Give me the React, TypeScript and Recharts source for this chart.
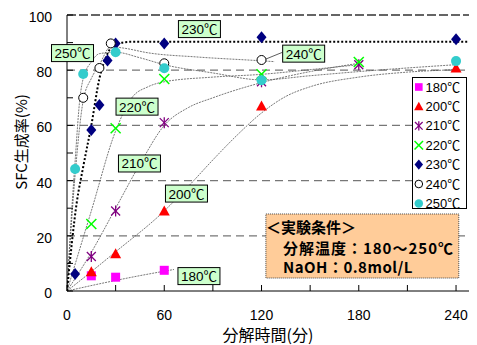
import React from 'react';
import {
  ComposedChart, XAxis, YAxis, Line, Scatter, ReferenceLine, ReferenceDot,
  ReferenceArea, CartesianGrid, Legend, Label,
} from 'recharts';

const FONT = '"Liberation Sans", Arial, "Noto Sans CJK JP", sans-serif';
const CJK = '"Noto Sans CJK JP", "Liberation Sans", sans-serif';

// axis ticks
const xTicks = [0, 30, 60, 90, 120, 150, 180, 210, 240];
const yTicks = [0, 10, 20, 30, 40, 50, 60, 70, 80, 90, 100];
const rightTicks = [0, 20, 40, 60, 80, 100];
const gridValues = [20, 40, 60, 80];

// measured points (time in min, SFC yield %)
const t180 = [15, 30, 60];
const v180 = [5.5, 5, 7.5];
const t200 = [15, 30, 60, 120, 240];
const v200 = [7, 13.5, 29, 67, 80.8];
const t210 = [15, 30, 60, 120, 180];
const v210 = [12.5, 29, 61, 75.8, 82];
const t220 = [15, 30, 60, 120, 180];
const v220 = [24.3, 59, 76.8, 78.5, 83];
const t230 = [5, 15, 20, 25, 30, 60, 120, 240];
const v230 = [6.2, 58.3, 67.4, 83.5, 89.7, 89.7, 91.9, 91.2];
const t240 = [10, 20, 27, 60, 120];
const v240 = [70, 80.8, 89.7, 82.5, 83.7];
const t250 = [5, 10, 30, 60, 120, 240];
const v250 = [44.2, 78.6, 86.5, 80.7, 76.4, 83.3];

// fitted curves
const ft180 = [0, 20, 40, 66];
const fv180 = [0, 2.6, 5, 7.8];
const ft200 = [0, 15, 30, 60, 75, 90, 105, 120, 135, 150, 180, 210, 240];
const fv200 = [0, 7, 14.2, 29, 38, 47.5, 56.5, 64.5, 70.5, 74, 77.5, 79.3, 80.2];
const ft210 = [0, 15, 30, 45, 60, 75, 90, 120, 150, 180];
const fv210 = [0, 14, 30, 46, 60, 66.5, 70, 75.5, 79.5, 82.5];
const ft220 = [0, 15, 30, 40, 50, 60, 90, 120, 150, 180];
const fv220 = [0, 29, 58, 70, 74, 75.8, 77.5, 78.5, 80.2, 82];
const ft230 = [0, 6, 10, 15, 20, 25, 30, 40, 60, 248];
const fv230 = [0, 32, 45, 60, 77, 86, 89.5, 90.3, 90.3, 90.3];
const ft240 = [0, 5, 10, 15, 20, 27, 35, 50, 80, 120, 128];
const fv240 = [0, 42, 69, 77, 82, 88.5, 88, 86.3, 84.8, 83.4, 83.1];
const ft250 = [0, 3, 5, 8, 10, 15, 20, 30, 45, 60, 90, 120, 150, 180, 240];
const fv250 = [0, 30, 47, 70, 77, 83, 86, 86.5, 84.5, 82, 79, 76.5, 78, 79.5, 82];

// in-plot labels
const labelText = ['230℃', '250℃', '240℃', '220℃', '210℃', '200℃', '180℃'];
const labelT = [81.7, 3.4, 146, 43.2, 44.7, 73.7, 81.4];
const labelV = [94.9, 86.2, 86, 66.8, 46.2, 35.3, 5.4];

const seriesNames = ['180℃', '200℃', '210℃', '220℃', '230℃', '240℃', '250℃'];

const zip = (t: number[], v: number[]) => t.map((x, i) => ({ t: x, v: v[i] }));

type ShapeKind = 'square' | 'triangle' | 'asterisk' | 'cross' | 'diamond' | 'open' | 'disc';

const marker = (kind: ShapeKind, cx: number, cy: number, s = 1) => {
  switch (kind) {
    case 'square':
      return <rect x={cx - 4.5 * s} y={cy - 4.5 * s} width={9 * s} height={9 * s} fill="#FF00FF" />;
    case 'triangle':
      return (
        <polygon
          points={`${cx},${cy - 5.5 * s} ${cx + 5.5 * s},${cy + 4.5 * s} ${cx - 5.5 * s},${cy + 4.5 * s}`}
          fill="#FF0000"
        />
      );
    case 'asterisk':
      return (
        <g stroke="#800080" strokeWidth={1.3}>
          <line x1={cx - 4.5 * s} y1={cy - 4.5 * s} x2={cx + 4.5 * s} y2={cy + 4.5 * s} />
          <line x1={cx - 4.5 * s} y1={cy + 4.5 * s} x2={cx + 4.5 * s} y2={cy - 4.5 * s} />
          <line x1={cx} y1={cy - 5.5 * s} x2={cx} y2={cy + 5.5 * s} />
        </g>
      );
    case 'cross':
      return (
        <g stroke="#00FF00" strokeWidth={1.5}>
          <line x1={cx - 5 * s} y1={cy - 5 * s} x2={cx + 5 * s} y2={cy + 5 * s} />
          <line x1={cx - 5 * s} y1={cy + 5 * s} x2={cx + 5 * s} y2={cy - 5 * s} />
        </g>
      );
    case 'diamond':
      return (
        <polygon
          points={`${cx},${cy - 6 * s} ${cx + 5 * s},${cy} ${cx},${cy + 6 * s} ${cx - 5 * s},${cy}`}
          fill="#000080"
        />
      );
    case 'open':
      return <circle cx={cx} cy={cy} r={4.5 * s} fill="#fff" stroke="#000" strokeWidth={1} />;
    default:
      return <circle cx={cx} cy={cy} r={5 * s} fill="#33CCCC" />;
  }
};

const seriesShapes: ShapeKind[] = ['square', 'triangle', 'asterisk', 'cross', 'diamond', 'open', 'disc'];
const pointSets = [
  zip(t180, v180), zip(t200, v200), zip(t210, v210), zip(t220, v220),
  zip(t230, v230), zip(t240, v240), zip(t250, v250),
];
const fitSets = [
  zip(ft180, fv180), zip(ft200, fv200), zip(ft210, fv210), zip(ft220, fv220),
  zip(ft240, fv240), zip(ft250, fv250),
];
const fit230 = zip(ft230, fv230);

const XTick = (p: any) => {
  const { x, y, payload } = p;
  const v = payload.value;
  return (
    <g>
      <line x1={x} y1={y} x2={x} y2={y - 6} stroke="#000" strokeWidth={1} />
      {v % 60 === 0 && (
        <text x={x} y={y + 29} textAnchor="middle" fontSize={14} fontFamily={FONT} fill="#000">
          {v}
        </text>
      )}
    </g>
  );
};

const YTick = (p: any) => {
  const { x, y, payload } = p;
  const v = payload.value;
  return (
    <g>
      <line x1={x} y1={y} x2={x + 6} y2={y} stroke="#000" strokeWidth={1} />
      {v % 20 === 0 && (
        <text x={x - 15} y={y + 7} textAnchor="end" fontSize={14} fontFamily={FONT} fill="#000">
          {v}
        </text>
      )}
    </g>
  );
};

const RTick = (p: any) => {
  const { x, y } = p;
  return <line x1={x} y1={y} x2={x - 6} y2={y} stroke="#000" strokeWidth={1} />;
};

const LabelBox = (p: any, text: string) => {
  const { cx, cy } = p;
  return (
    <g>
      <rect x={cx - 21} y={cy - 8.5} width={42} height={17} fill="#CCFFCC" stroke="#000" strokeWidth={1} />
      <text x={cx} y={cy + 5} textAnchor="middle" fontSize={13.5} fontFamily={FONT} fill="#000">
        {text}
      </text>
    </g>
  );
};

const LegendBox = () => (
  <div
    style={{
      width: 55, height: 132, border: '1px solid #000', background: '#fff',
      boxSizing: 'border-box', position: 'relative',
    }}
  >
    <svg width={53} height={130} style={{ display: 'block', overflow: 'visible' }}>
      {seriesNames.map((n, i) => {
        const cy = 9 + 19.4 * i;
        return (
          <g key={n}>
            {marker(seriesShapes[i], 5.8, cy, 0.85)}
            <text x={12.5} y={cy + 4.5} fontSize={13} fontFamily={FONT} fill="#000">
              {n}
            </text>
          </g>
        );
      })}
    </svg>
  </div>
);

const NoteLabel = (p: any) => {
  const vb = p.viewBox;
  return (
    <g fontFamily={CJK} fontWeight="bold" fontSize={15} fill="#000">
      <text x={vb.x} y={vb.y + 19.5}>＜実験条件＞</text>
      <text x={vb.x + 17} y={vb.y + 40} letterSpacing={1}>分解温度：180～250℃</text>
      <text x={vb.x + 17} y={vb.y + 59.5} letterSpacing={0.5}>NaOH：0.8mol/L</text>
    </g>
  );
};

export default function App() {
  return (
    <ComposedChart width={469} height={337} margin={{ top: 7, right: 8, bottom: 0, left: 0 }}>
      <CartesianGrid
        horizontal
        vertical={false}
        horizontalValues={gridValues}
        stroke="#777"
        strokeWidth={1.3}
        strokeDasharray="8 5"
      />
      <XAxis
        type="number"
        dataKey="t"
        domain={[0, 248]}
        allowDataOverflow
        ticks={xTicks}
        interval={0}
        tickSize={0}
        tickMargin={0}
        tickLine={false}
        tick={XTick}
        height={54}
        axisLine={{ stroke: '#000', strokeWidth: 1 }}
      >
        <Label
          content={(p: any) => (
            <text
              x={p.viewBox.x + p.viewBox.width / 2}
              y={p.viewBox.y + 50}
              textAnchor="middle"
              fontSize={16}
              fontFamily={CJK}
              fill="#000"
            >
              分解時間(分)
            </text>
          )}
        />
      </XAxis>
      <YAxis
        type="number"
        dataKey="v"
        domain={[0, 100]}
        allowDataOverflow
        ticks={yTicks}
        interval={0}
        tickSize={0}
        tickMargin={0}
        tickLine={false}
        tick={YTick}
        width={59}
        axisLine={{ stroke: '#000', strokeWidth: 1 }}
      >
        <Label
          content={(p: any) => {
            const cx = 14;
            const cy = p.viewBox.y + p.viewBox.height / 2 - 11;
            return (
              <text
                x={cx}
                y={cy}
                dy="0.35em"
                transform={`rotate(-90, ${cx}, ${cy})`}
                textAnchor="middle"
                fontSize={15}
                fontFamily={CJK}
                fill="#000"
              >
                SFC生成率(%)
              </text>
            );
          }}
        />
      </YAxis>
      <YAxis
        yAxisId="r"
        orientation="right"
        type="number"
        domain={[0, 100]}
        allowDataOverflow
        ticks={rightTicks}
        interval={0}
        tickSize={0}
        tickMargin={0}
        tickLine={false}
        tick={RTick}
        width={0}
        axisLine={{ stroke: '#000', strokeWidth: 1 }}
      />
      <ReferenceLine y={100} stroke="#333" strokeWidth={1.5} strokeDasharray="9 3" />

      {fitSets.map((d, i) => (
        <Line
          key={'fit' + i}
          data={d}
          dataKey="v"
          type="monotone"
          stroke="#555"
          strokeWidth={0.8}
          strokeDasharray="2 1"
          dot={false}
          activeDot={false}
          legendType="none"
          isAnimationActive={false}
        />
      ))}
      <Line
        data={fit230}
        dataKey="v"
        type="monotone"
        stroke="#000"
        strokeWidth={2}
        strokeDasharray="2 2"
        dot={false}
        activeDot={false}
        legendType="none"
        isAnimationActive={false}
      />
      <ReferenceLine
        segment={[{ x: 120, y: 83.4 }, { x: 133, y: 86.5 }]}
        stroke="#333"
        strokeWidth={0.8}
      />

      <ReferenceArea
        x1={122.7}
        x2={241.7}
        y1={4.7}
        y2={27.9}
        fill="#FFCC99"
        fillOpacity={1}
        stroke="#444"
        strokeDasharray="1 1"
        ifOverflow="visible"
        label={NoteLabel}
      />

      {pointSets.map((d, i) => (
        <Scatter
          key={'pts' + i}
          name={seriesNames[i]}
          data={d}
          dataKey="v"
          shape={(p: any) => marker(seriesShapes[i], p.cx, p.cy)}
          isAnimationActive={false}
        />
      ))}

      {labelText.map((txt, i) => (
        <ReferenceDot
          key={'lab' + i}
          x={labelT[i]}
          y={labelV[i]}
          r={0}
          ifOverflow="visible"
          shape={(p: any) => LabelBox(p, txt)}
        />
      ))}

      <Legend
        layout="horizontal"
        verticalAlign="middle"
        align="center"
        wrapperStyle={{ left: 403.5, top: 68.7, width: 55, height: 132, margin: 0, padding: 0 }}
        content={() => <LegendBox />}
      />
    </ComposedChart>
  );
}
